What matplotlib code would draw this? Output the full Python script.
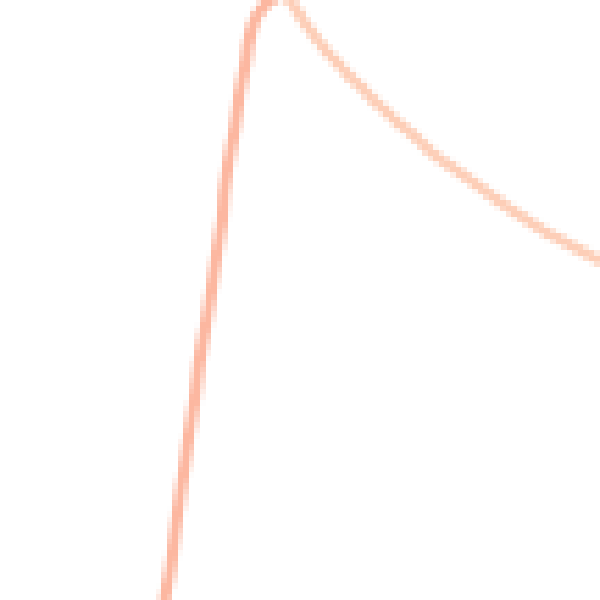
import numpy as np
import matplotlib
matplotlib.use('Agg')
import matplotlib.pyplot as plt

# curve (pixel-like units, y grows downward)
# rising part, bottom to apex
rise_x = [163, 165, 170, 175, 181, 185, 190, 195, 199, 205, 222, 224, 229, 235, 240,
          246, 248, 252, 256, 261, 267, 274, 280]
rise_y = [610, 598, 571, 533, 490, 463, 430, 397, 363, 330, 220, 193, 160, 127, 93,
          60, 45, 28, 17, 9, 3, -3, -6]
# falling part, apex to right edge
fall_x = [280, 287, 292, 298, 304, 315, 327, 338, 350, 362, 373, 385, 397, 413, 432,
          470, 507, 547, 593, 610]
fall_y = [-6, -3, 3, 12, 22, 37, 52, 63, 77, 88, 100, 110, 122, 135, 153,
          180, 207, 233, 257, 265]

rise_color = '#fcb7a0'
fall_color = '#fdceb7'
grid = 108  # the reference looks like a small raster blown up

# draw the line on a tiny canvas first
small = plt.figure(figsize=(grid / 100, grid / 100), dpi=100)
ax_s = small.add_axes([0, 0, 1, 1])
ax_s.plot(fall_x, fall_y, color=fall_color, lw=1.35, solid_capstyle='round')
ax_s.plot(rise_x, rise_y, color=rise_color, lw=1.5, solid_capstyle='round')
ax_s.set_xlim(0, 600)
ax_s.set_ylim(600, 0)
ax_s.axis('off')
small.canvas.draw()
raster = np.asarray(small.canvas.buffer_rgba())[:, :, :3].copy()
plt.close(small)

# blow it up to 600x600 with nearest-neighbour pixels
fig = plt.figure(figsize=(6, 6), dpi=100)
ax = fig.add_axes([0, 0, 1, 1])
ax.imshow(raster, interpolation='nearest', aspect='auto')
ax.axis('off')
fig.savefig('out.png', dpi=100)
